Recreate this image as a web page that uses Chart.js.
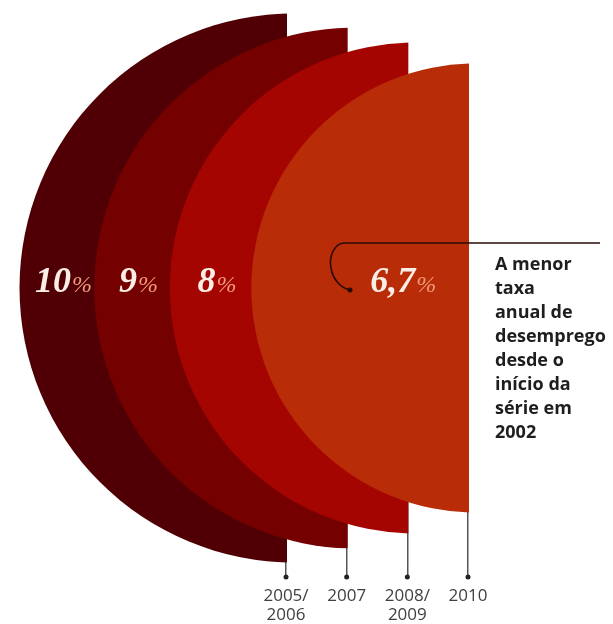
<!DOCTYPE html>
<html lang="pt-BR">
<head>
<meta charset="utf-8">
<title>Taxa anual de desemprego</title>
<script src="https://cdn.jsdelivr.net/npm/chart.js@4.4.1/dist/chart.umd.min.js"></script>
<style>
  html, body { margin: 0; padding: 0; background: #fff; }
  #wrap { position: relative; width: 613px; height: 624px; }
</style>
</head>
<body>
<div id="wrap"><canvas id="chart"></canvas></div>
<script>
// 数据
const years = [['2005/', '2006'], '2007', ['2008/', '2009'], '2010'];
const rates = [10, 9, 8, 6.7];
const rateLabels = ['10', '9', '8', '6,7'];
const fillColors = ['#500004', '#740000', '#a50500', '#b82c08'];
const noteLines = ['A menor', 'taxa', 'anual de', 'desemprego', 'desde o', 'início da', 'série em', '2002'];

// area of each half disc follows the rate
const RADIUS_K = 86.8;
const CENTER_SHIFT = 8;

/**
 * Draws the bubbles as left half discs, largest first
 */
const halfDiscs = {
  id: 'halfDiscs',
  beforeDatasetDraw(chart, args) {
    if (args.meta.type !== 'bubble') return;
    const ctx = chart.ctx;
    args.meta.data.forEach((el) => {
      const r = el.options.radius;
      ctx.save();
      ctx.beginPath();
      ctx.rect(0, 0, el.x + 1, chart.height);
      ctx.clip();
      ctx.beginPath();
      ctx.arc(el.x + CENTER_SHIFT, el.y, r, 0, Math.PI * 2);
      ctx.fillStyle = el.options.backgroundColor;
      ctx.fill();
      ctx.restore();
    });
    return false;
  },

  afterDatasetsDraw(chart) {
    const meta = chart.getDatasetMeta(0);
    const ctx = chart.ctx;
    const els = meta.data;
    const lefts = els.map(el => el.x + CENTER_SHIFT - el.options.radius);
    els.forEach((el, i) => {
      const cx = i < els.length - 1
        ? (lefts[i] + lefts[i + 1]) / 2 + 6
        : el.x - 0.29 * el.options.radius;
      const numFont = 'italic bold 36px "Liberation Serif"';
      const pctFont = 'italic 24px "Liberation Serif"';
      ctx.save();
      ctx.font = numFont;
      const wNum = ctx.measureText(rateLabels[i]).width;
      ctx.font = pctFont;
      const wPct = ctx.measureText('%').width;
      const x0 = cx - (wNum + wPct) / 2;
      const y = el.y + 4;
      ctx.textBaseline = 'alphabetic';
      ctx.textAlign = 'left';
      ctx.font = numFont;
      ctx.fillStyle = '#fbeee6';
      ctx.fillText(rateLabels[i], x0, y);
      ctx.font = pctFont;
      ctx.fillStyle = '#ef9a7c';
      ctx.fillText('%', x0 + wNum + 1, y);
      ctx.restore();
    });
  },

  afterDraw(chart) {
    // note pointing at the 2010 value
    const el = chart.getDatasetMeta(0).data[rates.length - 1];
    const ctx = chart.ctx;
    const cx = el.x;
    const cy = el.y;
    ctx.save();
    ctx.strokeStyle = '#2a0a06';
    ctx.lineWidth = 1.6;
    ctx.beginPath();
    ctx.moveTo(chart.width - 13, cy - 45);
    ctx.lineTo(cx - 123, cy - 45);
    ctx.bezierCurveTo(cx - 135, cy - 45, cx - 139, cy - 30, cx - 137, cy - 20);
    ctx.bezierCurveTo(cx - 135, cy - 8, cx - 127, cy, cx - 118, cy + 2);
    ctx.stroke();
    ctx.beginPath();
    ctx.arc(cx - 118, cy + 2, 2.5, 0, Math.PI * 2);
    ctx.fillStyle = '#2a0a06';
    ctx.fill();

    ctx.font = 'bold 18px "Open Sans"';
    ctx.fillStyle = '#1e1e1e';
    ctx.textAlign = 'left';
    ctx.textBaseline = 'alphabetic';
    noteLines.forEach((line, i) => {
      ctx.fillText(line, cx + 27, cy - 18 + i * 24);
    });
    ctx.restore();
  }
};

const chart = new Chart(document.getElementById('chart'), {
  type: 'bubble',
  data: {
    labels: years,
    datasets: [{
      data: rates.map((v, i) => ({ x: i, y: 1 })),
      backgroundColor: fillColors,
      radius: (ctx) => RADIUS_K * Math.sqrt(rates[ctx.dataIndex]),
      clip: false
    }, {
      type: 'scatter',
      data: rates.map((v, i) => ({ x: i, y: 0 })),
      pointRadius: 2.5,
      backgroundColor: '#222',
      borderWidth: 0,
      clip: false
    }]
  },
  options: {
    responsive: true,
    maintainAspectRatio: false,
    animation: false,
    events: [],
    layout: {
      autoPadding: false,
      padding: { left: 286, right: 145, top: 288, bottom: 0 }
    },
    scales: {
      x: {
        type: 'category',
        offset: false,
        border: { display: false },
        grid: {
          color: '#555',
          lineWidth: 1.5,
          drawTicks: false,
          offset: false
        },
        ticks: {
          padding: 10,
          color: '#404040',
          font: { family: '"Open Sans"', size: 17, lineHeight: 1.1 },
          maxRotation: 0,
          autoSkip: false
        },
        afterFit: (axis) => { axis.height = 47; }
      },
      y: {
        display: false,
        min: 0,
        max: 1
      }
    },
    plugins: {
      legend: { display: false },
      tooltip: { enabled: false }
    }
  },
  plugins: [halfDiscs]
});
</script>
</body>
</html>
